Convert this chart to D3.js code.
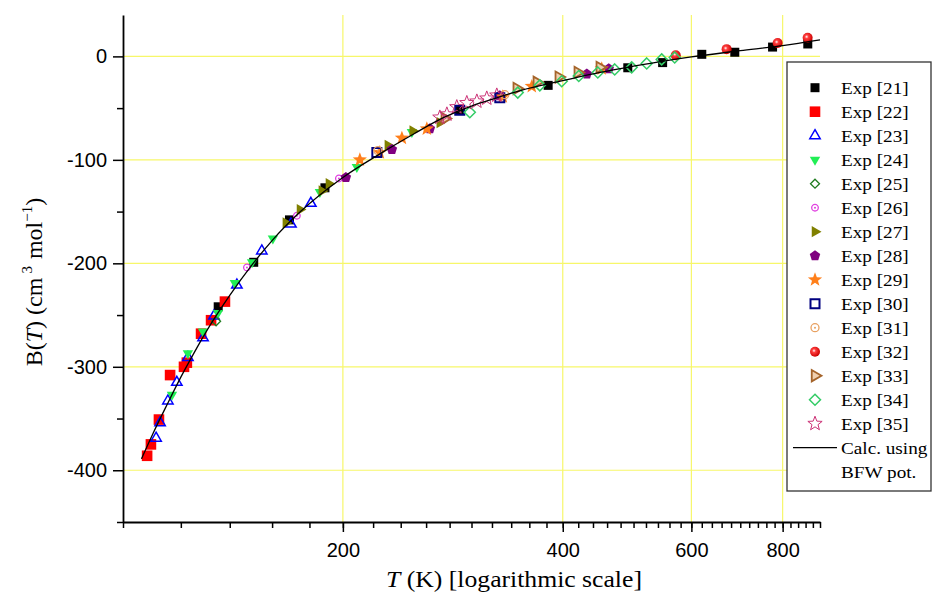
<!DOCTYPE html>
<html><head><meta charset="utf-8">
<script src="https://cdn.jsdelivr.net/npm/d3@7"></script>
<style>body{margin:0;background:#fff} svg{display:block}</style>
</head><body>
<svg id="chart" width="934" height="598"></svg>
<script>
// ---------- data ----------
const xTickValues = [200, 400, 600, 800];
const xMinorTicks = d3.range(100, 901, 20);
const yTickValues = [0, -100, -200, -300, -400];
const yMinorTicks = [-450, -350, -250, -150, -50];

const calcT = [106, 110, 115, 120, 125, 130, 140, 150, 160, 175, 200, 225, 250, 275, 300, 325, 350, 400, 450, 500, 550, 600, 700, 800, 900];
const calcB = [-389, -364, -336, -310, -287, -266, -231, -202, -178, -150, -117, -94, -75, -59, -48, -40, -33, -23.5, -15.5, -9.5, -4.5, -0.5, 5.5, 10.5, 16];

const exp21T = [135, 151, 169, 189, 289, 382, 491, 548, 620, 688, 775, 866];
const exp21B = [-242, -199, -158, -127, -52, -28, -11, -6, 2, 4, 9, 12];
const exp22T = [107.9, 109.2, 112.0, 116.0, 121.2, 122.3, 127.9, 132.0, 137.9];
const exp22B = [-386, -375, -351, -308, -300, -296, -268, -255, -237];
const exp23T = [111.0, 112.4, 115.2, 118.5, 122.7, 128.7, 133.2, 143.2, 154.9, 169.8, 180.8];
const exp23B = [-369, -354, -333, -315, -291, -272, -251, -221, -188, -162, -142];
const exp24T = [116.7, 122.7, 128.7, 134.9, 142.3, 150.2, 160.4, 186.0, 209.0, 248.6];
const exp24B = [-327, -287, -266, -248, -219, -199, -176, -131, -107, -73];
const exp25T = [134.1];
const exp25B = [-256];
const exp26T = [147.8, 173.0, 197.5];
const exp26B = [-204, -154, -118];
const exp27T = [167.1, 174.7, 187.2, 191.4, 230.5, 249.3, 271.5];
const exp27B = [-161, -148, -130, -123, -86, -72, -64];
const exp28T = [201.9, 233.4, 263.1, 328.0, 431.5, 462.4];
const exp28B = [-117, -90, -70, -38, -17, -12];
const exp29T = [211.0, 224.7, 240.9, 260.6, 331.1, 362.8, 452.3];
const exp29B = [-100, -93, -79, -70, -39, -29, -12];
const exp30T = [222.6, 289.1, 328.0];
const exp30B = [-93, -52, -40];
const exp31T = [223.3, 333.2];
const exp31B = [-91, -37];
const exp32T = [571.1, 670.5, 787.5, 865.6];
const exp32B = [1, 7, 13, 18];
const exp33T = [275.8, 346.0, 368.6, 395.0, 419.4, 449.5];
const exp33B = [-60, -31, -25, -20, -15.5, -10.6];
const exp34T = [298.4, 347.1, 372.1, 398.7, 420.7, 446.7, 471.2, 497.1, 521.2, 546.4, 569.3];
const exp34B = [-54, -35, -28, -24, -19, -15.5, -12.6, -10.6, -6.8, -2.9, -1.0];
const exp35T = [271.5, 277.6, 286.4, 295.6, 305.1, 314.8, 324.9];
const exp35B = [-59, -56, -49, -45, -43.5, -40.6, -37.7];

const seriesLabels = ["Exp [21]","Exp [22]","Exp [23]","Exp [24]","Exp [25]","Exp [26]","Exp [27]","Exp [28]","Exp [29]","Exp [30]","Exp [31]","Exp [32]","Exp [33]","Exp [34]","Exp [35]"];
const seriesT = [exp21T,exp22T,exp23T,exp24T,exp25T,exp26T,exp27T,exp28T,exp29T,exp30T,exp31T,exp32T,exp33T,exp34T,exp35T];
const seriesB = [exp21B,exp22B,exp23B,exp24B,exp25B,exp26B,exp27B,exp28B,exp29B,exp30B,exp31B,exp32B,exp33B,exp34B,exp35B];

// ---------- styles ----------
const styles = [
  {shape:"square", r:4.5, fill:"#000", stroke:"none"},
  {shape:"square", r:5.3, fill:"#ff0000", stroke:"none"},
  {shape:"triUp", r:6, fill:"none", stroke:"#0000ff", sw:1.5},
  {shape:"triDown", r:6, fill:"#22ee55", stroke:"none"},
  {shape:"diamond", r:4.5, fill:"none", stroke:"#1e7b1e", sw:1.3},
  {shape:"circle", r:3.3, fill:"none", stroke:"#e040e0", sw:1.3, dot:true},
  {shape:"triRight", r:6.5, fill:"#808000", stroke:"none"},
  {shape:"pentagon", r:5.5, fill:"#800080", stroke:"none"},
  {shape:"star", r:7.5, fill:"#ff7f1a", stroke:"none"},
  {shape:"square", r:4.5, fill:"none", stroke:"#000080", sw:2},
  {shape:"circle", r:4, fill:"none", stroke:"#e8a060", sw:1.3, dot:true},
  {shape:"ball", r:5, fill:"url(#ball)", stroke:"none"},
  {shape:"triRight", r:6.5, fill:"#f0d0b0", stroke:"#a5642a", sw:1.8},
  {shape:"diamond", r:5.5, fill:"none", stroke:"#33cc66", sw:1.5},
  {shape:"star", r:7.5, fill:"none", stroke:"#cc3377", sw:1}
];

function shapePath(s, r) {
  const poly = (angles, rad) => angles.map((a,i) => {
    const rr = Array.isArray(rad) ? rad[i % rad.length] : rad;
    return [rr*Math.cos(a*Math.PI/180), rr*Math.sin(a*Math.PI/180)];
  });
  let p;
  switch (s) {
    case "square": p = [[-r,-r],[r,-r],[r,r],[-r,r]]; break;
    case "triUp": p = poly([-90,30,150], r); break;
    case "triDown": p = poly([90,210,330], r); break;
    case "triRight": p = poly([0,120,240], r); break;
    case "diamond": p = [[0,-r],[r,0],[0,r],[-r,0]]; break;
    case "pentagon": p = poly([-90,-18,54,126,198], r); break;
    case "star": p = poly(d3.range(10).map(i => -90 + 36*i), [r, r*0.42]); break;
    default: return null;
  }
  return "M" + p.map(q => q[0].toFixed(2)+","+q[1].toFixed(2)).join("L") + "Z";
}

function drawSymbol(g, st) {
  if (st.shape === "circle" || st.shape === "ball") {
    g.append("circle").attr("r", st.r).attr("fill", st.fill).attr("stroke", st.stroke).attr("stroke-width", st.sw || 0);
    if (st.dot) g.append("circle").attr("r", 1).attr("fill", st.stroke);
  } else {
    g.append("path").attr("d", shapePath(st.shape, st.r)).attr("fill", st.fill)
      .attr("stroke", st.stroke).attr("stroke-width", st.sw || 0).attr("stroke-linejoin", "miter");
  }
}

// ---------- chart ----------
const svg = d3.select("#chart");
const defs = svg.append("defs");
const grad = defs.append("radialGradient").attr("id","ball").attr("cx","40%").attr("cy","40%").attr("r","60%");
grad.append("stop").attr("offset","0%").attr("stop-color","#ffffff");
grad.append("stop").attr("offset","30%").attr("stop-color","#ff4040");
grad.append("stop").attr("offset","100%").attr("stop-color","#cc0000");

const x = d3.scaleLog().domain([100, 900]).range([123, 820]);
const y = d3.scaleLinear().domain([-450, 40]).range([522, 15]);

// grid
const grid = svg.append("g").attr("stroke", "#f7f76a").attr("stroke-width", 1.2);
grid.selectAll("line.v").data(xTickValues).join("line").attr("class","v")
  .attr("x1", d => x(d)).attr("x2", d => x(d)).attr("y1", y.range()[1]).attr("y2", y.range()[0]);
grid.selectAll("line.h").data(yTickValues).join("line").attr("class","h")
  .attr("x1", x.range()[0]).attr("x2", x.range()[1]).attr("y1", d => y(d)).attr("y2", d => y(d));

// markers
const pts = svg.append("g");
seriesT.forEach((T, i) => {
  const data = d3.zip(T, seriesB[i]);
  pts.append("g").selectAll("g").data(data).join("g")
    .attr("transform", d => `translate(${x(d[0])},${y(d[1])})`)
    .each(function() { drawSymbol(d3.select(this), styles[i]); });
});

// curve
const line = d3.line().x(d => x(d[0])).y(d => y(d[1])).curve(d3.curveMonotoneX);
svg.append("path").datum(d3.zip(calcT, calcB)).attr("d", line)
  .attr("fill", "none").attr("stroke", "#000").attr("stroke-width", 1.3);

// axes
function styleAxis(g) {
  g.selectAll("line").attr("stroke", "#000").attr("stroke-width", 1.5);
  g.selectAll("path.domain").attr("stroke", "#000").attr("stroke-width", 1.8);
  g.selectAll("text").attr("font-family", "'Liberation Sans', Arial, sans-serif").attr("font-size", 20).attr("fill", "#000");
}
const plainFmt = d => String(d);
const xg = y.range()[0];
svg.append("g").attr("transform", `translate(0,${xg})`)
  .call(d3.axisBottom(x).tickValues(xMinorTicks).tickSize(6).tickFormat("").tickSizeOuter(0))
  .call(styleAxis).call(g => g.select(".domain").remove());
svg.append("g").attr("transform", `translate(0,${xg})`)
  .call(d3.axisBottom(x).tickValues(xTickValues).tickSize(10).tickPadding(11).tickFormat(plainFmt).tickSizeOuter(0))
  .call(styleAxis);
const yg = x.range()[0];
svg.append("g").attr("transform", `translate(${yg},0)`)
  .call(d3.axisLeft(y).tickValues(yMinorTicks).tickSize(6).tickFormat("").tickSizeOuter(0))
  .call(styleAxis).call(g => g.select(".domain").remove());
svg.append("g").attr("transform", `translate(${yg},0)`)
  .call(d3.axisLeft(y).tickValues(yTickValues).tickSize(10).tickPadding(6).tickFormat(plainFmt).tickSizeOuter(0))
  .call(styleAxis);

// axis titles
const serif = "'Liberation Serif', 'Times New Roman', serif";
const xt = svg.append("text").attr("transform", "translate(514,587) scale(1.07,1)")
  .attr("text-anchor", "middle").attr("font-family", serif).attr("font-size", 24).attr("fill", "#000");
xt.append("tspan").attr("font-style", "italic").text("T");
xt.append("tspan").text(" (K) [logarithmic scale]");

const yt = svg.append("text").attr("transform", "translate(42,282) rotate(-90)")
  .attr("text-anchor", "middle").attr("font-family", serif).attr("font-size", 24).attr("fill", "#000");
yt.append("tspan").text("B(");
yt.append("tspan").attr("font-style", "italic").text("T");
yt.append("tspan").text(") (cm");
yt.append("tspan").attr("font-size", 15).attr("dy", -10).attr("dx", 4).text("3");
yt.append("tspan").attr("dy", 10).attr("dx", 7).text("mol");
yt.append("tspan").attr("font-size", 15).attr("dy", -10).text("−1");
yt.append("tspan").attr("dy", 10).text(")");

// legend
const lg = svg.append("g");
lg.append("rect").attr("x", 787).attr("y", 62).attr("width", 144).attr("height", 429)
  .attr("fill", "#fff").attr("stroke", "#333").attr("stroke-width", 1.3);
const rowY = i => 87.7 + 24 * i;
seriesLabels.forEach((lab, i) => {
  const g = lg.append("g").attr("transform", `translate(815,${rowY(i)})`);
  drawSymbol(g, styles[i]);
  lg.append("text").attr("transform", `translate(841,${rowY(i) + 6}) scale(1.13,1)`)
    .attr("font-family", serif).attr("font-size", 17).attr("fill", "#000").text(lab);
});
lg.append("line").attr("x1", 793).attr("x2", 837).attr("y1", rowY(15)).attr("y2", rowY(15))
  .attr("stroke", "#000").attr("stroke-width", 1.3);
lg.append("text").attr("transform", `translate(841,${rowY(15) + 6}) scale(1.13,1)`)
  .attr("font-family", serif).attr("font-size", 17).attr("fill", "#000").text("Calc. using");
lg.append("text").attr("transform", `translate(841,${rowY(16) + 6}) scale(1.13,1)`)
  .attr("font-family", serif).attr("font-size", 17).attr("fill", "#000").text("BFW pot.");
</script>
</body></html>
